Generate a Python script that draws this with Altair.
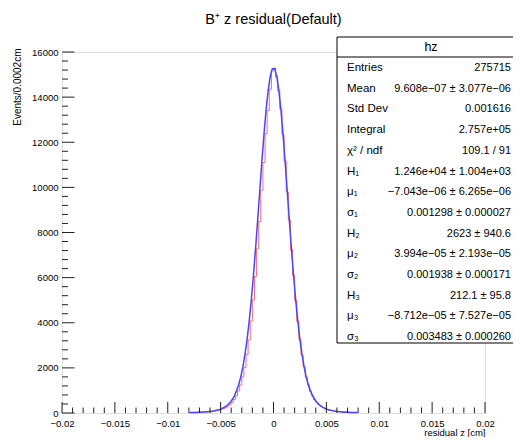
import altair as alt
import pandas as pd

# ---------------- data ----------------
bin_low = -0.008
bin_width = 0.0002

hist_counts = [
    15, 19, 24, 21, 27, 33, 36, 42, 46, 57,
    63, 78, 88, 112, 129, 163, 190, 238, 305, 369,
    468, 601, 752, 981, 1237, 1601, 2021, 2597, 3241, 4072,
    5012, 6051, 7281, 8490, 9871, 11102, 12380, 13401, 14352, 15210,
    15290, 14890, 14280, 13470, 12330, 11160, 9801, 8555, 7231, 6094,
    4985, 4047, 3268, 2571, 2046, 1583, 1250, 962, 766, 590,
    476, 370, 296, 247, 193, 163, 128, 112, 88, 79,
    62, 57, 44, 41, 35, 28, 27, 20, 21, 16,
]

fit_right = [
    15255, 14935, 14316, 13439, 12358, 11136, 9838, 8528, 7258, 6073,
    5001, 4060, 3255, 2583, 2033, 1592, 1243, 970, 759, 596,
    471, 374, 300, 242, 196, 160, 132, 109, 91, 76,
    65, 55, 47, 40, 34, 30, 26, 22, 19, 17,
]
fit_values = list(reversed(fit_right)) + fit_right

x_major = [-0.02, -0.015, -0.01, -0.005, 0, 0.005, 0.01, 0.015, 0.02]
y_major = [0, 2000, 4000, 6000, 8000, 10000, 12000, 14000, 16000]

title_text = "B\u207a z residual(Default)"
x_title = "residual z [cm]"
y_title = "Events/0.0002cm"

stat_name = "hz"
stat_labels = ["Entries", "Mean", "Std Dev", "Integral", "\u03c7\u00b2 / ndf",
               "H\u2081", "\u03bc\u2081", "\u03c3\u2081",
               "H\u2082", "\u03bc\u2082", "\u03c3\u2082",
               "H\u2083", "\u03bc\u2083", "\u03c3\u2083"]
stat_values = ["275715",
               "9.608e\u221207 \u00b1 3.077e\u221206",
               "0.001616",
               "2.757e+05",
               "109.1 / 91",
               "1.246e+04 \u00b1 1.004e+03",
               "\u22127.043e\u221206 \u00b1 6.265e\u221206",
               "0.001298 \u00b1 0.000027",
               "2623 \u00b1 940.6",
               "3.994e\u221205 \u00b1 2.193e\u221205",
               "0.001938 \u00b1 0.000171",
               "212.1 \u00b1 95.8",
               "\u22128.712e\u221205 \u00b1 7.527e\u221205",
               "0.003483 \u00b1 0.000260"]

# ---------------- layout ----------------
W, H = 423, 361
OX, OY = 62, 52          # plot origin in page pixels
FONT = "Liberation Sans, Arial, sans-serif"

xs = alt.Scale(domain=[-0.02, 0.02], nice=False, zero=False)
ys = alt.Scale(domain=[0, 16000], nice=False, zero=False)

# histogram step outline
hx, hy = [bin_low], [0]
for i, c in enumerate(hist_counts):
    hx.append(bin_low + i * bin_width)
    hy.append(c)
hx.append(bin_low + len(hist_counts) * bin_width)
hy.append(hist_counts[-1])
hx.append(bin_low + len(hist_counts) * bin_width)
hy.append(0)
hist_df = pd.DataFrame({"x": hx, "y": hy, "i": range(len(hx))})

fit_df = pd.DataFrame({
    "x": [bin_low + (i + 0.5) * bin_width for i in range(len(fit_values))],
    "y": fit_values,
    "i": range(len(fit_values)),
})

x_minor = [v / 1000 for v in range(-20, 21)]
y_minor = list(range(0, 16001, 400))

base_x_axis = alt.Axis(values=x_major, format="~g", ticks=False, domain=False, grid=False,
                       labelFont=FONT, labelFontSize=9.5, labelColor="#000", labelPadding=5,
                       labelFlush=False, labelOverlap=False,
                       title=x_title, titleFont=FONT, titleFontSize=9.5, titleFontWeight="normal",
                       titleColor="#000", titleAlign="right", titleBaseline="middle",
                       titleX=W, titleY=19.5)
base_y_axis = alt.Axis(values=y_major, format="d", ticks=False, domain=False, grid=False,
                       labelFont=FONT, labelFontSize=9.5, labelColor="#000", labelPadding=4,
                       labelFlush=False, labelOverlap=False,
                       title=y_title, titleFont=FONT, titleFontSize=10, titleFontWeight="normal",
                       titleColor="#000", titleAlign="right", titleBaseline="middle",
                       titleAngle=270, titleX=17 - OX, titleY=48 - OY)

hist = alt.Chart(hist_df).mark_line(interpolate="step-after", color="#ff5a5a", strokeWidth=0.9).encode(
    x=alt.X("x:Q", scale=xs, axis=base_x_axis),
    y=alt.Y("y:Q", scale=ys, axis=base_y_axis),
    order="i:Q",
)

fit = alt.Chart(fit_df).mark_line(color="#4646ff", strokeWidth=1.5).encode(
    x=alt.X("x:Q", scale=xs),
    y=alt.Y("y:Q", scale=ys),
    order="i:Q",
)

def is_major_x(v):
    return any(abs(v - m) < 1e-9 for m in x_major)

xt_df = pd.DataFrame({"x": x_minor, "major": [is_major_x(v) for v in x_minor]})
yt_df = pd.DataFrame({"y": y_minor, "major": [v % 2000 == 0 for v in y_minor]})

TICK = "#222"
xt_major = alt.Chart(xt_df[xt_df["major"]]).mark_rule(color=TICK, strokeWidth=1).encode(
    x=alt.X("x:Q", scale=xs), y=alt.value(H), y2=alt.value(H - 11))
xt_minor = alt.Chart(xt_df[~xt_df["major"]]).mark_rule(color=TICK, strokeWidth=1).encode(
    x=alt.X("x:Q", scale=xs), y=alt.value(H), y2=alt.value(H - 5.5))
yt_major = alt.Chart(yt_df[yt_df["major"]]).mark_rule(color=TICK, strokeWidth=1).encode(
    y=alt.Y("y:Q", scale=ys), x=alt.value(0), x2=alt.value(12.5))
yt_minor = alt.Chart(yt_df[~yt_df["major"]]).mark_rule(color=TICK, strokeWidth=1).encode(
    y=alt.Y("y:Q", scale=ys), x=alt.value(0), x2=alt.value(6))

# title
title = alt.Chart(pd.DataFrame({"t": [title_text]})).mark_text(
    font=FONT, fontSize=14.5, color="#000", align="center", baseline="middle").encode(
    text="t:N", x=alt.value(W / 2), y=alt.value(20 - OY))

# stats box
bx0, bx1, by0, by1 = 337 - OX, 540 - OX, 37 - OY, 343 - OY
box = alt.Chart(pd.DataFrame({"a": [0]})).mark_rect(
    fill="white", stroke="#000", strokeWidth=1).encode(
    x=alt.value(bx0), x2=alt.value(bx1), y=alt.value(by0), y2=alt.value(by1))
sep = alt.Chart(pd.DataFrame({"a": [0]})).mark_rule(color="#000", strokeWidth=1).encode(
    x=alt.value(bx0), x2=alt.value(bx1), y=alt.value(57 - OY))
name = alt.Chart(pd.DataFrame({"t": [stat_name]})).mark_text(
    font=FONT, fontSize=12.5, color="#000", align="center", baseline="middle").encode(
    text="t:N", x=alt.value(431 - OX), y=alt.value(47 - OY))

row0, step = 68 - OY, 20.7
stat_layers = []
for k, (lab, val) in enumerate(zip(stat_labels, stat_values)):
    yy = row0 + k * step
    df = pd.DataFrame({"l": [lab], "v": [val]})
    stat_layers.append(alt.Chart(df).mark_text(
        font=FONT, fontSize=11.5, color="#000", align="left", baseline="middle").encode(
        text="l:N", x=alt.value(347 - OX), y=alt.value(yy)))
    stat_layers.append(alt.Chart(df).mark_text(
        font=FONT, fontSize=11, color="#000", align="right", baseline="middle").encode(
        text="v:N", x=alt.value(511 - OX), y=alt.value(yy)))

chart = alt.layer(
    hist, fit, xt_major, xt_minor, yt_major, yt_minor, title, box, sep, name, *stat_layers
).properties(
    width=W, height=H,
    autosize=alt.AutoSizeParams(type="none"),
    padding={"left": OX - 8, "top": OY - 8, "right": 505 - (OX - 8) - W, "bottom": 429 - (OY - 8) - H},
).configure_view(stroke="#222", strokeWidth=1).configure(background="white")

chart.save("out.html", embed_options={"renderer": "svg", "actions": False})
